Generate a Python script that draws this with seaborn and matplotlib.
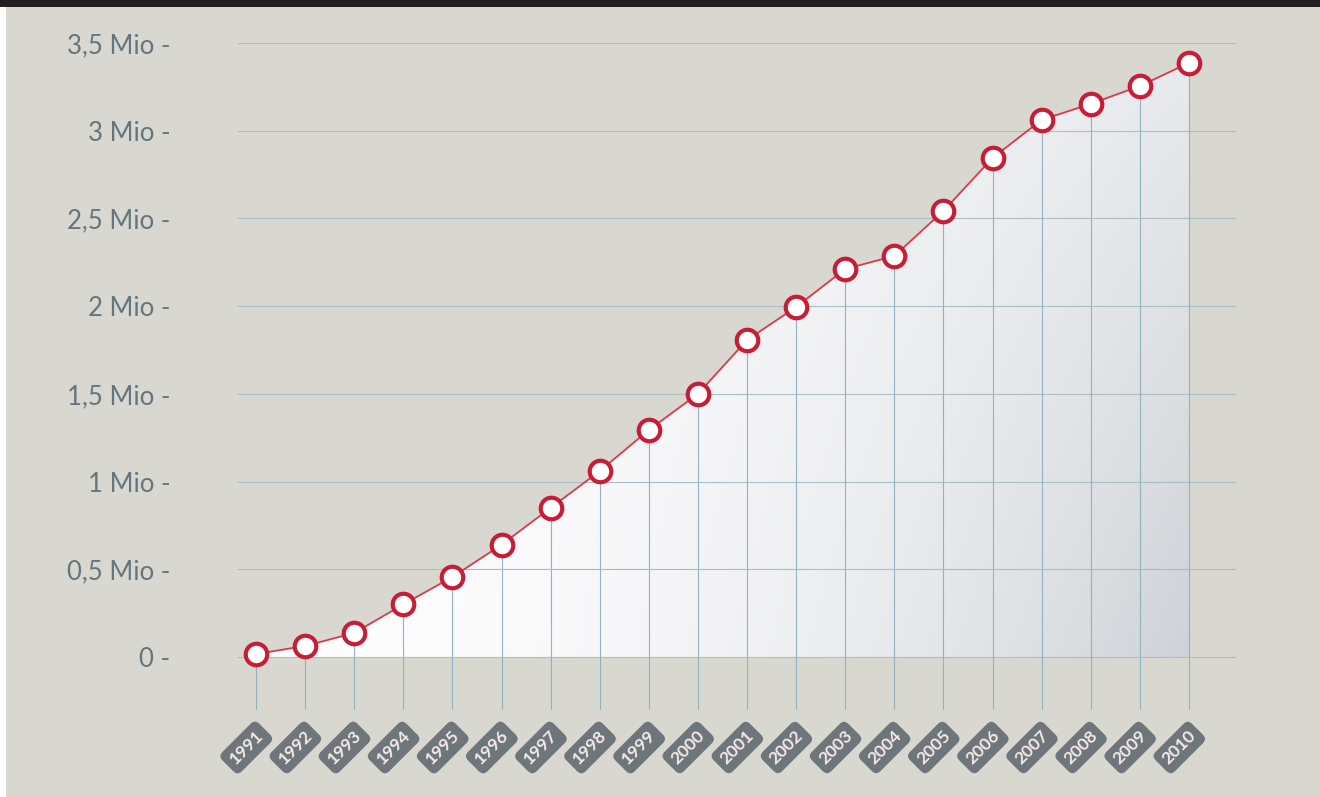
import numpy as np
import pandas as pd
import matplotlib
matplotlib.use("Agg")
import matplotlib.pyplot as plt
import matplotlib.transforms as mtransforms
from matplotlib.patches import Polygon, Rectangle
import seaborn as sns

years = [1991, 1992, 1993, 1994, 1995, 1996, 1997, 1998, 1999, 2000,
         2001, 2002, 2003, 2004, 2005, 2006, 2007, 2008, 2009, 2010]
values = [0.017, 0.063, 0.137, 0.30, 0.456, 0.64, 0.85, 1.06, 1.294, 1.50,
          1.807, 1.995, 2.212, 2.286, 2.543, 2.845, 3.062, 3.153, 3.255, 3.387]
ytick_values = [0, 0.5, 1, 1.5, 2, 2.5, 3, 3.5]
ytick_labels = ["0 -", "0,5 Mio -", "1 Mio -", "1,5 Mio -", "2 Mio -",
                "2,5 Mio -", "3 Mio -", "3,5 Mio -"]
xtick_labels = [str(y) for y in years]

df = pd.DataFrame({"year": years, "value": values})

sns.set_style("white")
plt.rcParams["font.family"] = ["Lato", "DejaVu Sans"]

BG = "#d9d8d0"
fig = plt.figure(figsize=(13.2, 7.97), dpi=100, facecolor=BG)
W, H = 1320, 797
ax = fig.add_axes([237 / W, 1 - 710 / H, (1236 - 237) / W, (710 - 43) / H])
ax.set_facecolor("none")
for s in ax.spines.values():
    s.set_visible(False)

xlo, xhi = 1990.613, 2010.957
ylo, yhi = -0.302, 3.5
ax.set_xlim(xlo, xhi)
ax.set_ylim(ylo, yhi)

# gradient fill under the curve
ny, nx = 200, 200
gx = np.linspace(0, 1, nx)
gy = np.linspace(0, 1, ny)
GX, GY = np.meshgrid(gx, gy)
t = np.clip(GX ** 2.0 * (0.45 + 0.55 * GY), 0, 1)
c0 = np.array([253, 253, 254]) / 255
c1 = np.array([207, 210, 215]) / 255
img = c0[None, None, :] * (1 - t[..., None]) + c1[None, None, :] * t[..., None]
im = ax.imshow(img, extent=[years[0], years[-1], 0, values[-1]], origin="upper",
               aspect="auto", zorder=1)
poly_pts = [(years[0], 0)] + list(zip(years, values)) + [(years[-1], 0)]
poly = Polygon(poly_pts, closed=True, transform=ax.transData, facecolor="none", edgecolor="none")
ax.add_patch(poly)
im.set_clip_path(poly)
ax.set_xlim(xlo, xhi)
ax.set_ylim(ylo, yhi)

# horizontal grid lines
ax.hlines(ytick_values, xlo, xhi, colors="#aabfc8", lw=0.8, zorder=2)
ax.hlines([0.5], years[0], years[-1], colors="#d7a9ae", lw=0.7, zorder=2.1)
# vertical drop lines
ax.vlines(years, ylo, values, colors="#93b2c1", lw=0.8, zorder=2)

sns.lineplot(data=df, x="year", y="value", ax=ax, color="#d8394c", lw=1.3,
             marker="o", markersize=15.5, markerfacecolor="white",
             markeredgecolor="#c81d37", markeredgewidth=3.0, zorder=5,
             clip_on=False)
ax.set_xlabel("")
ax.set_ylabel("")

ax.set_yticks(ytick_values, labels=ytick_labels)
ax.tick_params(axis="y", length=0, pad=48, labelsize=18.5, labelcolor="#64757e")
for lab in ax.get_yticklabels():
    lab.set_fontweight("normal")

ax.set_xticks(years, labels=xtick_labels)
ax.tick_params(axis="x", length=0, pad=27, labelsize=12.5, labelcolor="#f6e9e8")
off = mtransforms.ScaledTranslation(-7 / 72, 0, fig.dpi_scale_trans)
for lab in ax.get_xticklabels():
    lab.set_rotation(45)
    lab.set_rotation_mode("anchor")
    lab.set_ha("center")
    lab.set_va("center")
    lab.set_fontweight("bold")
    lab.set_transform(lab.get_transform() + off)
    lab.set_bbox(dict(boxstyle="round,pad=0.33,rounding_size=0.35", fc="#6e767c", ec="none"))

# top dark band and left white strip
fig.patches.append(Rectangle((0, 1 - 7 / H), 1, 7 / H, transform=fig.transFigure,
                             facecolor="#231f20", edgecolor="none", zorder=10))
fig.patches.append(Rectangle((0, 0), 6 / W, 1 - 7 / H, transform=fig.transFigure,
                             facecolor="white", edgecolor="none", zorder=10))

fig.savefig("out.png", dpi=100, facecolor=BG)
